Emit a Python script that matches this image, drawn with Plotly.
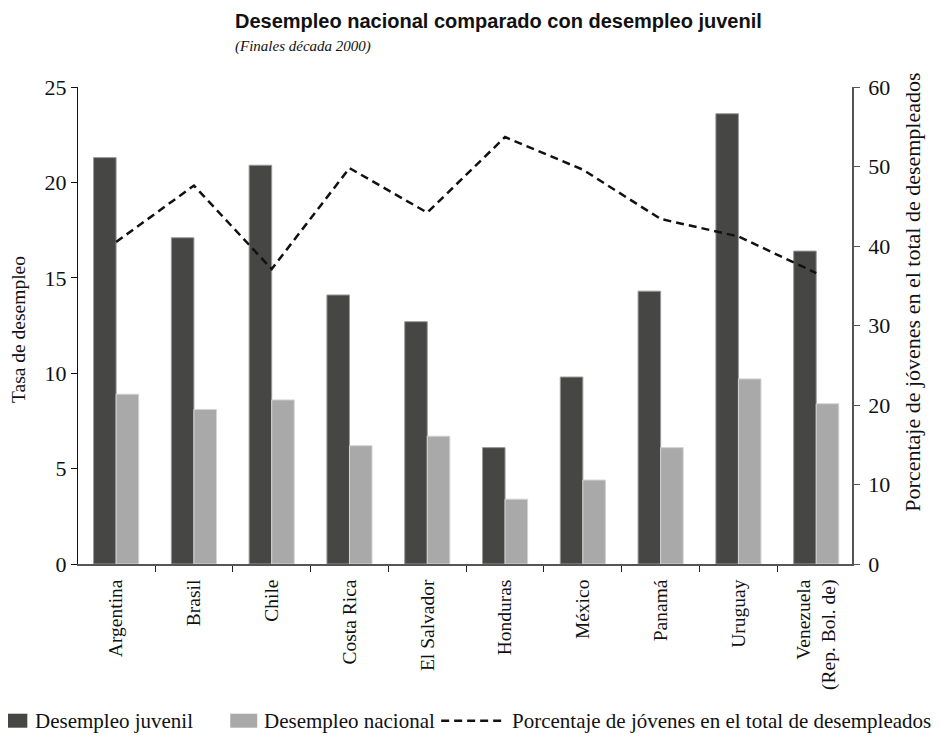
import plotly.graph_objects as go

paises = ["Argentina", "Brasil", "Chile", "Costa Rica", "El Salvador", "Honduras",
          "México", "Panamá", "Uruguay", "Venezuela<br>(Rep. Bol. de)"]
desempleo_juvenil = [21.3, 17.1, 20.9, 14.1, 12.7, 6.1, 9.8, 14.3, 23.6, 16.4]
desempleo_nacional = [8.9, 8.1, 8.6, 6.2, 6.7, 3.4, 4.4, 6.1, 9.7, 8.4]
porcentaje_jovenes = [40.5, 47.6, 37.1, 49.8, 44.2, 53.7, 49.6, 43.4, 41.2, 36.6]

titulo = "Desempleo nacional comparado con desempleo juvenil"
subtitulo = "(Finales década 2000)"
eje_izq = "Tasa de desempleo"
eje_der = "Porcentaje de jóvenes en el total de desempleados"
leyenda = ["Desempleo juvenil", "Desempleo nacional",
           "Porcentaje de jóvenes en el total de desempleados"]

# page offset (default body margin of the html page)
OFF = 8
W, H = 940 - OFF, 738 - OFF
# plot area in screen pixels
L, R, T, B = 77.7, 852.0, 87.3, 564.3
PW, PH = R - L, B - T


def px(x):
    return (x - L) / PW


def py(y):
    return (B - y) / PH


SERIF = "Liberation Serif, Times New Roman, serif"
SANS = "Liberation Sans, Arial, sans-serif"
DARK = "#464644"
LIGHT = "#a9a9a9"

fig = go.Figure()
fig.add_trace(go.Bar(x=paises, y=desempleo_juvenil, name=leyenda[0],
                     marker=dict(color=DARK, line=dict(color="#9a9a9a", width=1)),
                     showlegend=False))
fig.add_trace(go.Bar(x=paises, y=desempleo_nacional, name=leyenda[1],
                     marker=dict(color=LIGHT, line=dict(color="#d4d4d4", width=1)),
                     showlegend=False))
fig.add_trace(go.Scatter(x=paises, y=porcentaje_jovenes, name=leyenda[2], yaxis="y2",
                         mode="lines", line=dict(color="#111111", width=2.5, dash="8px,5px"),
                         showlegend=False))

fig.update_layout(
    width=W, height=H,
    margin=dict(l=L - OFF, r=940 - R, t=T - OFF, b=738 - B, pad=0),
    paper_bgcolor="white", plot_bgcolor="white",
    barmode="group", bargap=0.42, bargroupgap=0,
    font=dict(family=SERIF, size=19, color="#111111"),
    xaxis=dict(type="category", range=[-0.49, 9.46], showline=True, linecolor="#555555",
               linewidth=1.5, ticks="outside", tickson="boundaries", ticklen=6,
               tickcolor="#222222", tickangle=-90, showgrid=False, zeroline=False,
               ticklabelstandoff=6, tickfont=dict(family=SERIF, size=19.5)),
    yaxis=dict(range=[0, 25], dtick=5, showline=True, linecolor="#111111", linewidth=1,
               ticks="outside", ticklen=6, tickcolor="#111111", showgrid=False,
               zeroline=False, tickfont=dict(family=SERIF, size=22)),
    yaxis2=dict(range=[0, 60], dtick=10, overlaying="y", side="right", showline=True,
                linecolor="#555555", linewidth=1.5, ticks="outside", ticklen=6,
                tickcolor="#555555", showgrid=False, zeroline=False, ticklabelstandoff=4,
                tickfont=dict(family=SERIF, size=22)),
)

ann = [
    dict(text="<b>" + titulo + "</b>", x=px(233), y=py(21), xanchor="left", yanchor="middle",
         font=dict(family=SANS, size=20, color="#111111")),
    dict(text="<i>" + subtitulo + "</i>", x=px(233), y=py(47), xanchor="left", yanchor="middle",
         font=dict(family=SERIF, size=15, color="#111111")),
    dict(text=eje_izq, x=px(18), y=py(330), textangle=-90, xanchor="center", yanchor="middle",
         font=dict(family=SERIF, size=19.5)),
    dict(text=eje_der, x=px(913), y=py(292), textangle=-90, xanchor="center", yanchor="middle",
         font=dict(family=SERIF, size=22)),
    dict(text=leyenda[0], x=px(33), y=py(721), xanchor="left", yanchor="middle",
         font=dict(family=SERIF, size=21)),
    dict(text=leyenda[1], x=px(262), y=py(721), xanchor="left", yanchor="middle",
         font=dict(family=SERIF, size=21)),
    dict(text=leyenda[2], x=px(510), y=py(721), xanchor="left", yanchor="middle",
         font=dict(family=SERIF, size=21)),
]
for a in ann:
    a.update(xref="paper", yref="paper", showarrow=False)
fig.update_layout(annotations=ann)

fig.add_shape(type="rect", xref="paper", yref="paper", x0=px(0), x1=px(27), y0=py(728), y1=py(714),
              fillcolor=DARK, line=dict(width=0))
fig.add_shape(type="rect", xref="paper", yref="paper", x0=px(230), x1=px(257), y0=py(728), y1=py(714),
              fillcolor=LIGHT, line=dict(width=0))
fig.add_shape(type="line", xref="paper", yref="paper", x0=px(441), x1=px(505), y0=py(721), y1=py(721),
              line=dict(color="#111111", width=2.5, dash="8px,5px"))

fig.write_html("out.html")
